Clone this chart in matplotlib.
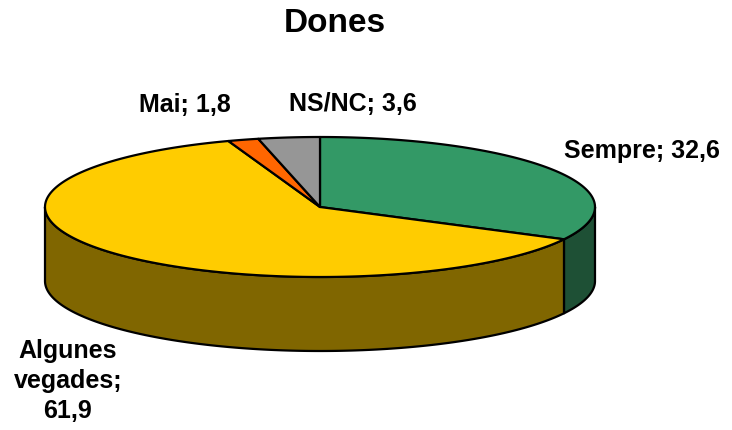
import numpy as np
import matplotlib
matplotlib.use("Agg")
import matplotlib.pyplot as plt
from matplotlib.patches import Polygon

title = "Dones"
categories = ["Sempre", "Algunes vegades", "Mai", "NS/NC"]
values = [32.6, 61.9, 1.8, 3.6]
label_texts = ["Sempre; 32,6", "Algunes\nvegades;\n61,9", "Mai; 1,8", "NS/NC; 3,6"]
top_colors = ["#339966", "#FFCC00", "#FF6600", "#969696"]
side_colors = ["#1E5035", "#806600", "#803300", "#4B4B4B"]

W, H = 732, 430
fig = plt.figure(figsize=(W / 100, H / 100), dpi=100)
ax = fig.add_axes([0, 0, 1, 1])
ax.set_xlim(0, W)
ax.set_ylim(H, 0)
ax.axis("off")

cx, cy = 320, 207
rx, ry = 275, 70
depth = 74

def pt(theta_deg, dy=0.0):
    t = np.radians(theta_deg)
    return cx + rx * np.cos(t), cy - ry * np.sin(t) + dy

# slices run clockwise starting at 12 o'clock
total = sum(values)
bounds = [90.0]
for v in values:
    bounds.append(bounds[-1] - v / total * 360.0)

# outer walls (only the front half, angles between 180 and 360 deg)
for i in range(len(values)):
    a0, a1 = bounds[i], bounds[i + 1]
    hi, lo = max(a0, a1), min(a0, a1)
    for shift in (0, -360, 360):
        s_hi = min(hi + shift, 360)
        s_lo = max(lo + shift, 180)
        if s_hi > s_lo:
            th = np.linspace(s_lo, s_hi, 200)
            top = [pt(t) for t in th]
            bot = [pt(t, depth) for t in th[::-1]]
            ax.add_patch(Polygon(top + bot, closed=True, facecolor=side_colors[i],
                                 edgecolor="black", linewidth=1.6, joinstyle="round"))

# top faces
for i in range(len(values)):
    a0, a1 = bounds[i], bounds[i + 1]
    th = np.linspace(a0, a1, 300)
    verts = [(cx, cy)] + [pt(t) for t in th]
    ax.add_patch(Polygon(verts, closed=True, facecolor=top_colors[i],
                         edgecolor="black", linewidth=1.6, joinstyle="round"))

font = dict(family=["Liberation Sans", "DejaVu Sans"], fontweight="bold", color="black")
ax.text(335, 24, title, fontsize=24, ha="center", va="center", **font)
ax.text(564, 151, label_texts[0], fontsize=18, ha="left", va="center", **font)
ax.text(68, 381, label_texts[1], fontsize=18, ha="center", va="center",
        linespacing=1.32, **font)
ax.text(231, 105, label_texts[2], fontsize=18, ha="right", va="center", **font)
ax.text(289, 104, label_texts[3], fontsize=18, ha="left", va="center", **font)

fig.savefig("out.png", dpi=100)
